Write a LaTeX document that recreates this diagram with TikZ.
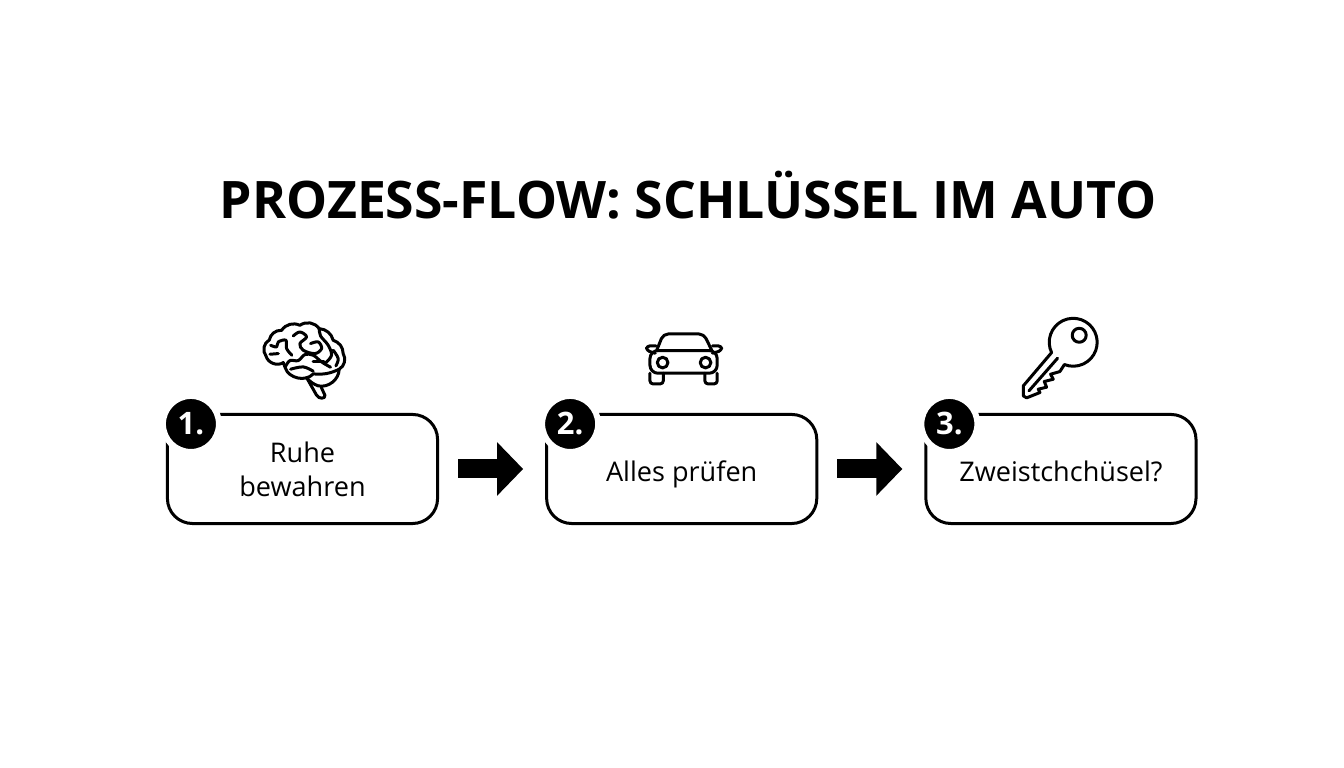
\documentclass[tikz,border=0pt]{standalone}
\usepackage{fontspec}
\setmainfont{Open Sans}
\usetikzlibrary{arrows.meta,positioning}
\tikzset{
  box-style/.style = {
    rectangle, rounded corners=0.25cm, draw, line width=0.03cm,
    minimum width=2.7cm,
    minimum height=1.09cm,
    align=center,
    inner sep=1pt,
    font=\displayName
  },
  line-style/.style = {
    text height=8.4pt, text depth=1pt
  },
  badge-style/.style = {
    circle, draw=white, fill=black, line width=0.06cm,
    minimum size=0.56cm,
    inner sep=0pt,
    text=white,
    font=\commandName
  },
  title-style/.style = {
    font=\fontsize{14.7pt}{18pt}\selectfont\bfseries
  },
  flow-style/.style = {
    draw, line width=0.19cm,
    -{Triangle[length=0.26cm,width=0.52cm]},
    shorten <=0.19cm, shorten >=0.22cm
  },
  icon-style/.style = {
    line width=0.03cm, line join=round, line cap=round
  },
  icon-at/.style = {
    shift={#1}, x=0.00333cm, y=-0.00333cm
  }
}
\newcommand\displayName{\fontsize{7.7pt}{9.7pt}\selectfont}
\newcommand\commandName{\fontsize{8.8pt}{10pt}\selectfont\bfseries}
\def\createStep name:#1 display:#2 direct:#3 to:#4;{
  \node [box-style, line-style, #3=1.06cm of #4] (#1) {#2};
  \path (#4) edge[flow-style] (#1);
}
\def\createBadge name:#1 display:#2 to:#3;{
  \node [badge-style] (#1) at ([shift={(25,11)}]#3.north west) {#2};
}
\newcommand\drawBrain{
  \begin{scope}[icon-at={(250,312)}, icon-style]
    % outer shape
    \draw (100,152) to[bend left=55] (48,132) to[bend left=50] (58,84) to[bend left=40] (95,55)
      to[bend left=40] (150,40) to[bend left=45] (208,50) to[bend left=35] (250,85)
      to[bend left=35] (280,125) to[bend left=45] (268,172) to[bend left=15] (190,186)
      to[bend left=60] (106,168) -- cycle;
    % stem
    \draw (268,172) to[bend left=50] (205,222) to[bend left=15] (170,197);
    \draw (170,197) -- (200,250) .. controls (206,262) and (228,262) .. (225,250) -- (214,226);
    % folds
    \draw plot[smooth, tension=0.6] coordinates {(106,165) (120,146) (145,146) (165,128) (190,130) (215,150) (242,166)};
    \draw plot[smooth, tension=0.6] coordinates {(62,100) (80,105) (85,90) (108,85) (110,110) (126,130)};
    \draw (60,127) -- (85,125);
    \draw plot[smooth, tension=0.6] coordinates {(130,72) (150,60) (170,75) (150,95) (160,115) (195,125) (215,110) (205,90) (182,95)};
    \draw plot[smooth, tension=0.6] coordinates {(208,50) (212,72) (235,100) (245,130) (228,152)};
    \draw plot[smooth, tension=0.6] coordinates {(122,172) (160,165) (190,178)};
    \draw plot[smooth, tension=0.6] coordinates {(250,115) (265,140) (258,162)};
    \draw (190,150) -- (222,150);
  \end{scope}
}
\newcommand\drawCar{
  \begin{scope}[icon-at={(630,320)}, icon-style]
    \draw [rounded corners=0.05cm] (80,92) -- (100,42) -- (222,42) -- (246,92);
    \draw [rounded corners=0.08cm] (60,160) -- (60,92) -- (262,92) -- (262,160) -- cycle;
    \draw [rounded corners=0.03cm] (60,160) -- (60,192) -- (100,192) -- (100,160);
    \draw [rounded corners=0.03cm] (225,160) -- (225,192) -- (262,192) -- (262,160);
    \draw [rounded corners=0.03cm] (76,100) -- (50,92) -- (50,78) -- (78,78);
    \draw [rounded corners=0.03cm] (248,78) -- (275,78) -- (275,92) -- (248,100);
    \draw (98,128) circle[radius=16];
    \draw (227,128) circle[radius=16];
  \end{scope}
}
\newcommand\drawKey{
  \begin{scope}[icon-at={(1005,310)}, icon-style]
    \draw (140,128) arc[start angle=154.5, end angle=471.6, radius=72]
      -- (165,185) -- (137,193) -- (145,208) -- (118,215) -- (125,232) -- (100,238) -- (105,248)
      -- (65,264) -- (55,258) -- (55,228) -- cycle;
    \draw (223,76) circle[radius=21];
    \draw (158,145) -- (72,243);
  \end{scope}
}

\begin{document}
\begin{tikzpicture}[x=0.01cm, y=-0.01cm]
  \useasboundingbox (0,0) rectangle (1344,768);
  \node[title-style] (title) at (688,195) {PROZESS-FLOW: SCHLÜSSEL IM AUTO};

  \node [box-style] (ruhe) at (302.5,469) {Ruhe\\bewahren};
  \createStep name:pruefen display:{Alles prüfen} direct:right to:ruhe;
  \createStep name:zweit display:{Zweistchchüsel?} direct:right to:pruefen;

  \createBadge name:eins display:{1.} to:ruhe;
  \createBadge name:zwei display:{2.} to:pruefen;
  \createBadge name:drei display:{3.} to:zweit;

  \drawBrain
  \drawCar
  \drawKey
\end{tikzpicture}
\end{document}
